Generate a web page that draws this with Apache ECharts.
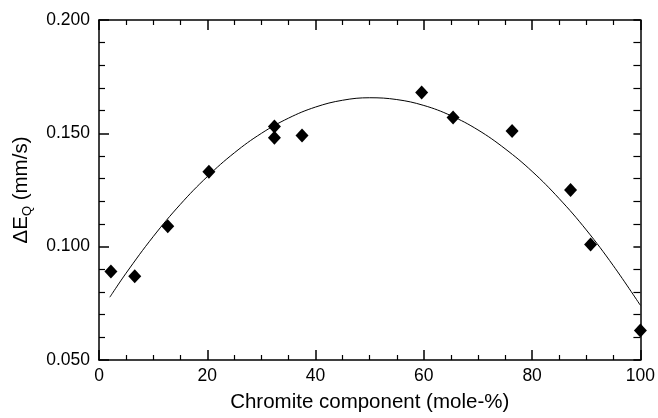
<!DOCTYPE html>
<html>
<head>
<meta charset="utf-8">
<script src="https://cdn.jsdelivr.net/npm/echarts@6/dist/echarts.min.js"></script>
<style>
  html, body { margin: 0; padding: 0; background: #fff; }
  #chart { width: 658px; height: 418px; }
</style>
</head>
<body>
<div id="chart"></div>
<script>
// measured points
var chromite = [2.2, 6.6, 12.7, 20.3, 32.4, 32.4, 37.5, 59.6, 65.4, 76.3, 87.1, 90.8, 100];
var deltaEQ = [0.089, 0.087, 0.109, 0.133, 0.153, 0.148, 0.149, 0.168, 0.157, 0.151, 0.125, 0.101, 0.063];

// fitted curve
var fitX = [2, 5, 10, 15, 20, 25, 30, 35, 40, 45, 50, 55, 60, 65, 70, 75, 80, 85, 90, 95, 100];
var fitY = [0.0777, 0.0883, 0.1044, 0.1186, 0.1309, 0.1414, 0.1500, 0.1567, 0.1616, 0.1646, 0.1657,
            0.1649, 0.1623, 0.1578, 0.1515, 0.1432, 0.1332, 0.1212, 0.1074, 0.0916, 0.0741];

var font = 'Liberation Sans, Arial, sans-serif';

function pairs(xs, ys) {
    var out = [];
    for (var i = 0; i < xs.length; i++) {
        out.push([xs[i], ys[i]]);
    }
    return out;
}

var chart = echarts.init(document.getElementById('chart'), null, { renderer: 'canvas' });

var lineStyle = { color: '#000', width: 1.5 };

var option = {
    backgroundColor: '#fff',
    animation: false,
    grid: { left: 99, top: 20, right: 16, bottom: 55, containLabel: false },
    xAxis: [{
        type: 'value',
        position: 'bottom',
        min: 0, max: 100, interval: 20,
        axisLine: { show: true, onZero: false, lineStyle: lineStyle },
        axisTick: { show: true, inside: true, length: 10, lineStyle: lineStyle },
        minorTick: { show: true, splitNumber: 4, length: 5, lineStyle: { color: '#000', width: 1.2 } },
        splitLine: { show: false },
        axisLabel: { color: '#000', fontSize: 17.5, fontFamily: font, margin: 7 },
        name: 'Chromite component (mole-%)',
        nameLocation: 'middle',
        nameGap: 32,
        nameTextStyle: { color: '#000', fontSize: 20.5, fontFamily: font }
    }, {
        type: 'value',
        position: 'top',
        min: 0, max: 100, interval: 20,
        axisLine: { show: true, onZero: false, lineStyle: lineStyle },
        axisTick: { show: true, inside: true, length: 10, lineStyle: lineStyle },
        minorTick: { show: true, splitNumber: 4, length: 5, lineStyle: { color: '#000', width: 1.2 } },
        splitLine: { show: false },
        axisLabel: { show: false }
    }],
    yAxis: [{
        type: 'value',
        position: 'left',
        min: 0.05, max: 0.2, interval: 0.05,
        axisLine: { show: true, onZero: false, lineStyle: lineStyle },
        axisTick: { show: true, inside: true, length: 10, lineStyle: lineStyle },
        minorTick: { show: true, splitNumber: 5, length: 6, lineStyle: { color: '#000', width: 1.2 } },
        splitLine: { show: false },
        axisLabel: {
            color: '#000', fontSize: 17.5, fontFamily: font, margin: 9,
            formatter: function (v) { return v.toFixed(3); }
        },
        name: '{a|ΔE}{sub|Q}{a| (mm/s)}',
        nameLocation: 'middle',
        nameGap: 65,
        nameTextStyle: {
            rich: {
                a: { color: '#000', fontSize: 20.5, fontFamily: font },
                sub: { color: '#000', fontSize: 13, fontFamily: font, padding: [12, 0, 0, 0] }
            }
        }
    }, {
        type: 'value',
        position: 'right',
        min: 0.05, max: 0.2, interval: 0.05,
        axisLine: { show: true, onZero: false, lineStyle: lineStyle },
        axisTick: { show: true, inside: true, length: 7, lineStyle: lineStyle },
        minorTick: { show: true, splitNumber: 5, length: 7, lineStyle: { color: '#000', width: 1.2 } },
        splitLine: { show: false },
        axisLabel: { show: false }
    }],
    series: [{
        type: 'line',
        data: pairs(fitX, fitY),
        smooth: 0.4,
        showSymbol: false,
        lineStyle: { color: '#000', width: 1 },
        z: 2
    }, {
        type: 'scatter',
        data: pairs(chromite, deltaEQ),
        symbol: 'diamond',
        symbolSize: [13, 14],
        itemStyle: { color: '#000', opacity: 1 },
        z: 3
    }]
};

chart.setOption(option);
</script>
</body>
</html>
